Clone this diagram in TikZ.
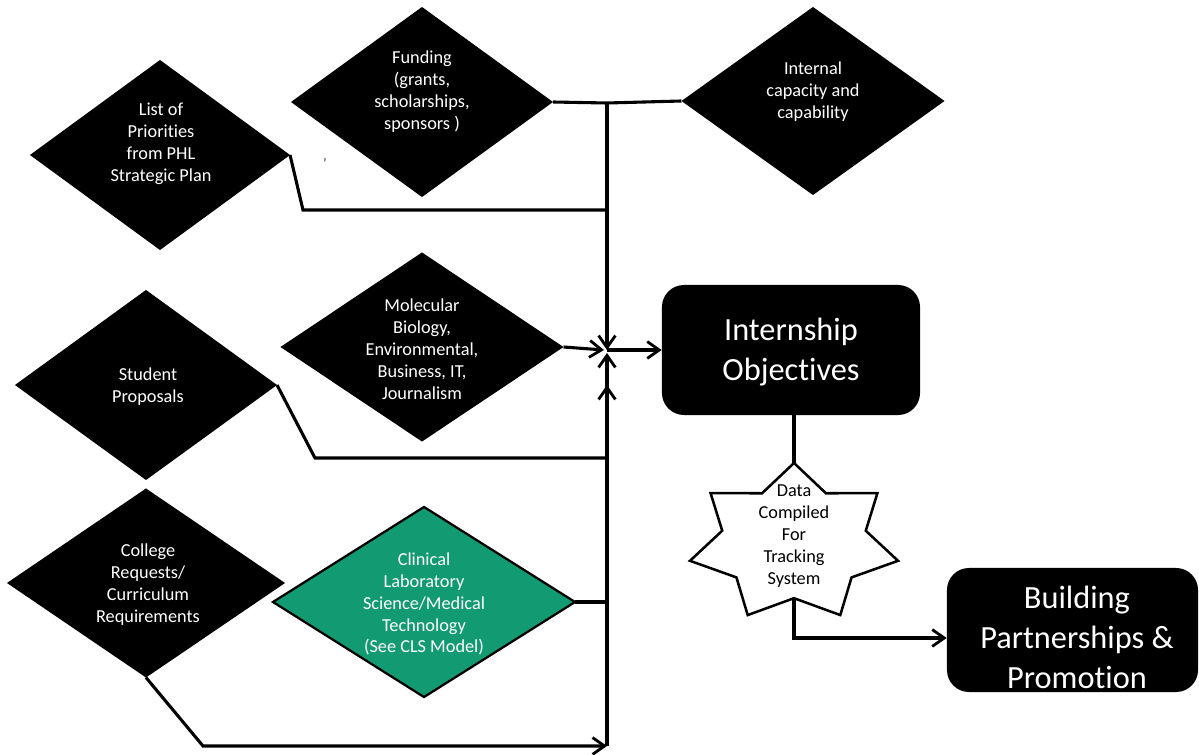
\documentclass[tikz,border=0pt]{standalone}
\usepackage{fontspec}
\setmainfont{Carlito}[Ligatures=NoCommon]
\usetikzlibrary{shapes.geometric,arrows.meta}
\definecolor{clsgreen}{RGB}{18,155,114}
\tikzset{
  dia/.style={diamond, fill=black, inner sep=0pt, outer sep=0pt},
  greendia/.style={diamond, fill=clsgreen, draw=black, line width=1.6pt, inner sep=0pt, outer sep=0pt},
  dtxt/.style={text=white, align=center, inner sep=0pt, font=\fontsize{13}{15.6}\selectfont},
  bigbox/.style={rectangle, fill=black, rounded corners=0.55cm, inner sep=0pt},
  bigtxt/.style={text=white, align=center, inner sep=0pt, font=\fontsize{23}{28.4}\selectfont},
  startxt/.style={text=black, align=center, inner sep=0pt, font=\fontsize{13}{15.6}\selectfont},
  conn/.style={line width=2.2pt, line join=miter},
  arr/.style={conn, -{Straight Barb[length=0.3cm, width=0.42cm, line width=2pt]}},
}
\begin{document}
\begin{tikzpicture}[x=0.025cm, y=-0.025cm]
\useasboundingbox (0,0) rectangle (1199,755);

% diamonds
\node[dia, minimum width=6.5cm,  minimum height=4.75cm]  (list) at (160,155) {};
\node[dia, minimum width=6.55cm, minimum height=4.75cm]  (fund) at (422,102) {};
\node[dia, minimum width=6.575cm,minimum height=4.7cm]   (int)  at (813,101) {};
\node[dia, minimum width=7.075cm,minimum height=4.725cm] (mol)  at (422,347) {};
\node[dia, minimum width=6.55cm, minimum height=4.75cm]  (stu)  at (146,385) {};
\node[dia, minimum width=6.95cm, minimum height=4.725cm] (col)  at (146,583) {};
\node[greendia, minimum width=7.55cm, minimum height=4.75cm] (clin) at (424,602) {};

\node[dtxt] (listT) at (161,144) {List of\\Priorities\\from PHL\\Strategic Plan};
\node[dtxt] (fundT) at (422,92) {Funding\\(grants,\\scholarships,\\sponsors )};
\node[dtxt] (intT)  at (813,92) {Internal\\capacity and\\capability};
\node[dtxt] (molT)  at (422,349) {Molecular\\Biology,\\Environmental,\\Business, IT,\\Journalism};
\node[dtxt] (stuT)  at (148,387) {Student\\Proposals};
\node[dtxt] (colT)  at (148,585) {College\\Requests/\\Curriculum\\Requirements};
\node[dtxt] (clinT) at (424,604) {Clinical\\Laboratory\\Science/Medical\\Technology\\(See CLS Model)};

\node[inner sep=0pt, font=\fontsize{9}{10}\selectfont] (tick) at (325,163) {'};

% boxes
\node[bigbox, minimum width=6.45cm, minimum height=3.25cm] (io) at (791,350) {};
\node[bigtxt] (ioT) at (791,352) {Internship\\Objectives};
\node[bigbox, minimum width=6.275cm, minimum height=3.1cm] (bp) at (1072.5,630) {};
\node[bigtxt] (bpT) at (1077,637) {Building\\Partnerships \&\\Promotion};

% star
\draw[line width=1.8pt, fill=white, line join=miter]
  plot[samples at={0,1,...,13}, variable=\k]
  ({794+106.7*ifthenelse(mod(\k,2)==0,1,0.69)*cos(90+\k*180/7)},
   {543-80*ifthenelse(mod(\k,2)==0,1,0.69)*sin(90+\k*180/7)}) -- cycle;
\node[startxt] (star) at (794,536) {Data\\Compiled\\For\\Tracking\\System};
\coordinate (startop) at (794,463);
\coordinate (starbot) at (794,598);

% junction coordinates
\coordinate (j1) at (607,103);
\coordinate (jc) at (607,350);
\coordinate (j2) at (607,210);
\coordinate (j3) at (607,458);
\coordinate (j4) at (607,602);
\coordinate (j5) at (607,746);
\coordinate (jup) at (607,353);
\coordinate (jup2) at (607,385);
\coordinate (jm) at (604,350);

% connectors
\draw[conn] (fund.east) -- (j1) -- (int.west);
\draw[arr] (j1) -- (jc);
\draw[conn] (list.east) -- (303,210) -- (j2);
\draw[arr] (mol.east) -- (jm);
\draw[arr] (jc) -- (io.west);
\draw[conn] (stu.east) -- (315,458) -- (j3);
\draw[arr] (j3) -- (jup);
\draw[conn] (clin.east) -- (j4);
\draw[arr] (col.south) -- (203,746) -- (j5);
\draw[arr] (j5) -- (jup2);
\draw[conn] (io.south -| startop) -- (startop);
\draw[arr] (starbot) |- ([yshift=-0.2cm]bp.west);
\end{tikzpicture}
\end{document}
